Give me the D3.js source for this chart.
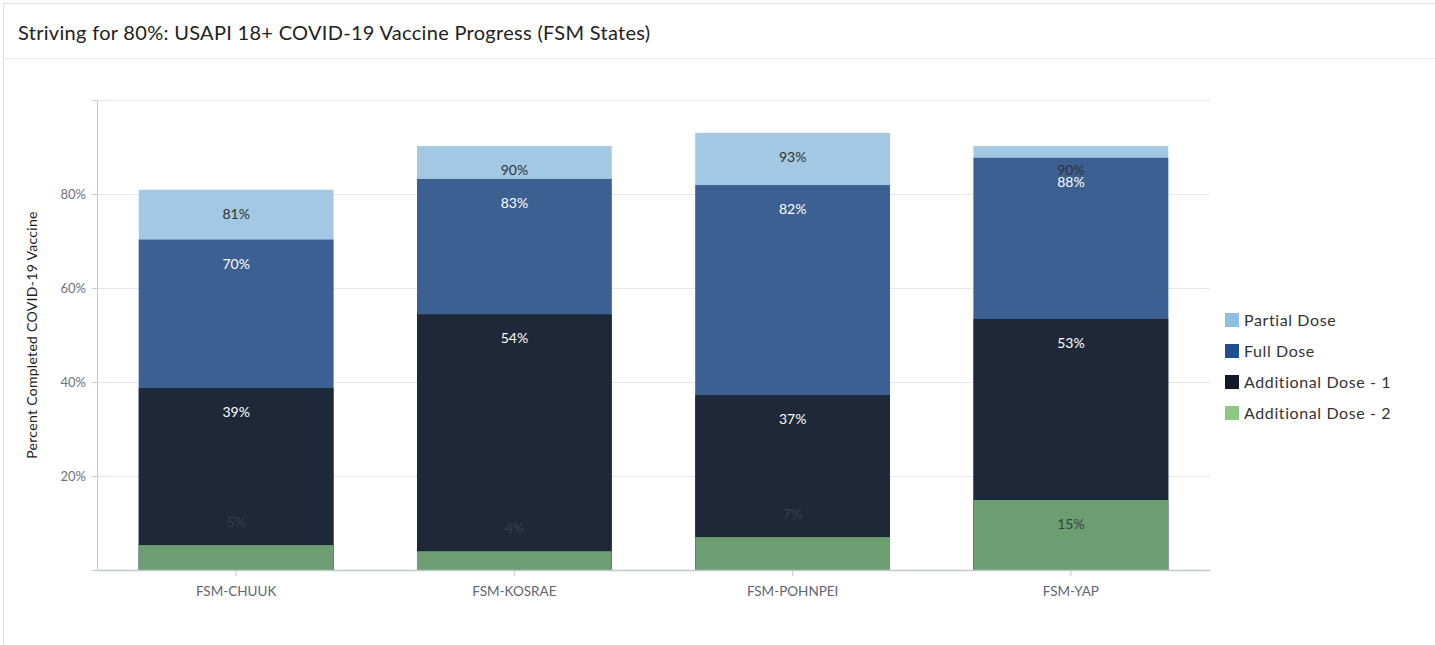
<!DOCTYPE html>
<html>
<head>
<meta charset="utf-8">
<script src="https://cdn.jsdelivr.net/npm/d3@7"></script>
<style>
  body { margin: 0; background: #fff; font-family: "Source Sans Pro", "Lato", sans-serif; }
  svg { display: block; }
</style>
</head>
<body>
<svg></svg>
<script>
// data
const states = ['FSM-CHUUK', 'FSM-KOSRAE', 'FSM-POHNPEI', 'FSM-YAP'];
const seriesNames = ['Partial Dose', 'Full Dose', 'Additional Dose - 1', 'Additional Dose - 2'];
const partialDose = [80.9, 90.2, 93.0, 90.2];
const fullDose = [70.3, 83.2, 81.9, 87.7];
const additionalDose1 = [38.7, 54.4, 37.2, 53.4];
const additionalDose2 = [5.3, 4.0, 7.0, 14.9];
const yTicks = [0, 20, 40, 60, 80, 100];

const barColors = ['#a2c8e4', '#3d6092', '#1f2839', '#6c9e72'];
const legendColors = ['#8fc0e2', '#1f4f8e', '#121a2a', '#8dc883'];
const labelColors = ['#333', '#fff', '#fff', '#3a3f48'];

const series = [partialDose, fullDose, additionalDose1, additionalDose2];

// setup
const width = 1435;
const height = 645;
const svg = d3.select('svg').attr('width', width).attr('height', height);

// card
svg.append('path')
  .attr('d', 'M3.5,' + height + ' V3.5 H' + width)
  .attr('fill', 'none')
  .attr('stroke', '#dcdfe3');
svg.append('line')
  .attr('x1', 4).attr('x2', width)
  .attr('y1', 58.5).attr('y2', 58.5)
  .attr('stroke', '#e6e8ec');

svg.append('text')
  .attr('x', 18)
  .attr('y', 40)
  .attr('font-size', 20)
  .attr('letter-spacing', 0.3)
  .attr('fill', '#222')
  .text('Striving for 80%: USAPI 18+ COVID-19 Vaccine Progress (FSM States)');

// scales
const plotLeft = 97;
const plotRight = 1210;
const plotTop = 100;
const plotBottom = 570;

const yScale = d3.scaleLinear().domain([0, 100]).range([plotBottom, plotTop]);
const xScale = d3.scaleBand()
  .domain(states)
  .range([plotLeft, plotRight])
  .paddingInner(0.3)
  .paddingOuter(0.15);

// grid
svg.append('g')
  .selectAll('line')
  .data(yTicks.filter(function (t) { return t > 0; }))
  .enter()
  .append('line')
  .attr('x1', plotLeft).attr('x2', plotRight)
  .attr('y1', function (d) { return Math.round(yScale(d)) + 0.5; })
  .attr('y2', function (d) { return Math.round(yScale(d)) + 0.5; })
  .attr('stroke', '#e3e6ec');

// bars (overlapping, biggest drawn first)
series.forEach(function (values, s) {
  svg.append('g')
    .selectAll('rect')
    .data(values)
    .enter()
    .append('rect')
    .attr('x', function (d, i) { return xScale(states[i]); })
    .attr('y', function (d) { return yScale(d); })
    .attr('width', xScale.bandwidth())
    .attr('height', function (d) { return plotBottom - yScale(d); })
    .attr('fill', barColors[s]);
});

// labels on top of everything
series.forEach(function (values, s) {
  svg.append('g')
    .selectAll('text')
    .data(values)
    .enter()
    .append('text')
    .attr('x', function (d, i) { return xScale(states[i]) + xScale.bandwidth() / 2; })
    .attr('y', function (d) {
      const y = yScale(d);
      // short bars get the label above them
      return (plotBottom - y) > 50 ? y + 29 : y - 18;
    })
    .attr('text-anchor', 'middle')
    .attr('font-size', 14)
    .attr('fill', labelColors[s])
    .text(function (d) { return Math.round(d) + '%'; });
});

// axes
const yAxis = svg.append('g')
  .attr('transform', 'translate(' + plotLeft + ', 0)')
  .call(d3.axisLeft(yScale)
    .tickValues(yTicks)
    .tickSize(5)
    .tickPadding(6)
    .tickFormat(function (d) { return (d === 0 || d === 100) ? '' : d + '%'; }));
yAxis.select('.domain').attr('stroke', '#c3c8d3');
yAxis.selectAll('.tick line').attr('stroke', '#c3c8d3');
yAxis.selectAll('.tick text')
  .attr('fill', '#6b7280')
  .attr('font-size', 13)
  .attr('font-family', 'Source Sans Pro, Lato, sans-serif');

const xAxis = svg.append('g')
  .attr('transform', 'translate(0, ' + plotBottom + ')')
  .call(d3.axisBottom(xScale).tickSize(6).tickSizeOuter(0).tickPadding(10));
xAxis.select('.domain').attr('stroke', '#c3c8d3').attr('stroke-width', 1.5);
xAxis.selectAll('.tick line').attr('stroke', '#c3c8d3');
xAxis.selectAll('.tick text')
  .attr('fill', '#5f6673')
  .attr('font-size', 13.5)
  .attr('font-family', 'Source Sans Pro, Lato, sans-serif');

svg.append('text')
  .attr('transform', 'translate(37, ' + ((plotTop + plotBottom) / 2) + ') rotate(-90)')
  .attr('text-anchor', 'middle')
  .attr('font-size', 14)
  .attr('letter-spacing', 0.3)
  .attr('fill', '#222')
  .text('Percent Completed COVID-19 Vaccine');

// legend
const legend = svg.append('g')
  .selectAll('g')
  .data(seriesNames)
  .enter()
  .append('g')
  .attr('transform', function (d, i) { return 'translate(1225, ' + (313 + i * 31) + ')'; });

legend.append('rect')
  .attr('width', 14)
  .attr('height', 14)
  .attr('fill', function (d, i) { return legendColors[i]; });

legend.append('text')
  .attr('x', 19)
  .attr('y', 13)
  .attr('font-size', 16)
  .attr('letter-spacing', 0.6)
  .attr('fill', '#333')
  .text(function (d) { return d; });
</script>
</body>
</html>
